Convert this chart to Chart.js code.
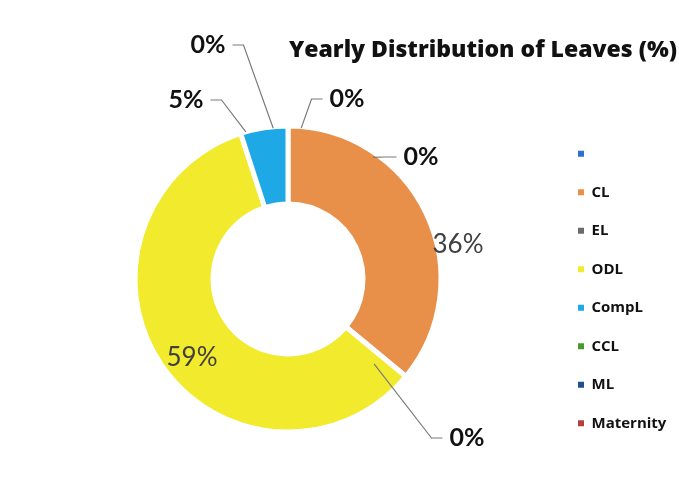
<!DOCTYPE html>
<html>
<head>
<meta charset="utf-8">
<title>Yearly Distribution of Leaves (%)</title>
<script src="https://cdn.jsdelivr.net/npm/chart.js@4.4.1/dist/chart.umd.min.js"></script>
<style>
  html, body { margin: 0; padding: 0; background: #fff; }
  #wrap { width: 679px; height: 499px; }
</style>
</head>
<body>
<div id="wrap"><canvas id="chart" width="679" height="499"></canvas></div>
<script>
// chart data
var chartTitle = 'Yearly Distribution of Leaves (%)';
var leaveTypes = ['', 'CL', 'EL', 'ODL', 'CompL', 'CCL', 'ML', 'Maternity'];
var leavePercent = [0, 36, 0, 59, 5, 0, 0, 0];
var sliceColors = ['#2f6fd1', '#e8904a', '#6b6b6b', '#f2ea2c', '#1ea8e6', '#4c9a2f', '#1f4f8f', '#b0413e'];

// where each percent label sits, relative to the doughnut centre
// [dx, dy, leader angle nudge (deg), leader radius factor] ; null = not shown
var labelPlacement = [
    [59, -180, 5, 0.99],
    [170, -34, null, null],
    [179, 159, 5, 0.79],
    [-96, 79, null, null],
    [-102, -179, -7, 1.0],
    [-80, -234, -5.6, 0.99],
    [133, -122, 35, 0.97],
    null
];

var font = 'Lato, "Open Sans", sans-serif';
var wideFont = '"Open Sans", Lato, sans-serif';
var legendFontSize = 15;
var legendPadding = 23.5;
var legendBoxX = 578;   // left edge of the legend swatches
var centreX = 288;

// legend width is text driven, so work out the side paddings from it
var measureCtx = document.createElement('canvas').getContext('2d');
measureCtx.font = 'bold ' + legendFontSize + 'px ' + wideFont;
var longest = Math.max.apply(null, leaveTypes.map(function (t) { return measureCtx.measureText(t).width; }));
var legendWidth = 6 + legendFontSize / 2 + longest + legendPadding + 10;
var legendLeft = legendBoxX - legendPadding;
var padRight = 679 - legendLeft - legendWidth;
var padLeft = 2 * centreX - legendLeft;

var titlePlugin = {
    id: 'sheetTitle',
    afterDraw: function (chart) {
        var ctx = chart.ctx;
        ctx.save();
        ctx.font = '800 23px ' + wideFont;
        ctx.fillStyle = '#111';
        ctx.textAlign = 'right';
        ctx.textBaseline = 'middle';
        ctx.fillText(chartTitle, chart.width - 2, 50);
        ctx.restore();
    }
};

var percentLabels = {
    id: 'percentLabels',
    afterDatasetsDraw: function (chart) {
        var ctx = chart.ctx;
        var meta = chart.getDatasetMeta(0);
        var total = leavePercent.reduce(function (a, b) { return a + b; }, 0);
        ctx.save();
        meta.data.forEach(function (arc, i) {
            var spec = labelPlacement[i];
            if (!spec) return;
            var p = arc.getProps(['x', 'y', 'startAngle', 'endAngle', 'outerRadius'], true);
            var text = Math.round(leavePercent[i] / total * 100) + '%';
            var big = leavePercent[i] > 10;
            ctx.font = big ? '26px ' + font : 'bold 25px ' + font;
            ctx.fillStyle = big ? '#404040' : '#111';
            ctx.textAlign = 'center';
            ctx.textBaseline = 'middle';
            var tx = p.x + spec[0];
            var ty = p.y + spec[1];
            ctx.fillText(text, tx, ty);

            if (spec[2] === null) return;
            var mid = (p.startAngle + p.endAngle) / 2 + spec[2] * Math.PI / 180;
            var ax = p.x + Math.cos(mid) * p.outerRadius * spec[3];
            var ay = p.y + Math.sin(mid) * p.outerRadius * spec[3];
            var half = ctx.measureText(text).width / 2;
            var dir = ax < tx ? -1 : 1;
            var x0 = tx + dir * (half + 7);
            ctx.strokeStyle = '#7a7a7a';
            ctx.lineWidth = 1.2;
            ctx.beginPath();
            ctx.moveTo(x0, ty);
            ctx.lineTo(x0 + dir * 11, ty);
            ctx.lineTo(ax, ay);
            ctx.stroke();
        });
        ctx.restore();
    }
};

var leaveChart = new Chart(document.getElementById('chart').getContext('2d'), {
    type: 'doughnut',
    data: {
        labels: leaveTypes,
        datasets: [{
            label: 'Leaves',
            data: leavePercent,
            backgroundColor: sliceColors,
            borderColor: '#ffffff',
            borderWidth: 5
        }]
    },
    options: {
        responsive: false,
        animation: false,
        radius: 153,
        cutout: '49%',
        layout: {
            padding: { top: 75, bottom: 16, left: padLeft, right: padRight }
        },
        plugins: {
            title: { display: false },
            tooltip: { enabled: false },
            legend: {
                position: 'right',
                title: { display: true, text: ' ', font: { size: 1 }, padding: { top: 18, bottom: 0 } },
                labels: {
                    boxWidth: 6,
                    boxHeight: 6,
                    padding: legendPadding,
                    color: '#111',
                    font: { family: wideFont, size: legendFontSize, weight: 'bold' },
                    generateLabels: function (chart) {
                        var items = Chart.overrides.doughnut.plugins.legend.labels.generateLabels(chart);
                        items.forEach(function (item) { item.lineWidth = 0; });
                        return items;
                    }
                }
            }
        }
    },
    plugins: [percentLabels, titlePlugin]
});
</script>
</body>
</html>
